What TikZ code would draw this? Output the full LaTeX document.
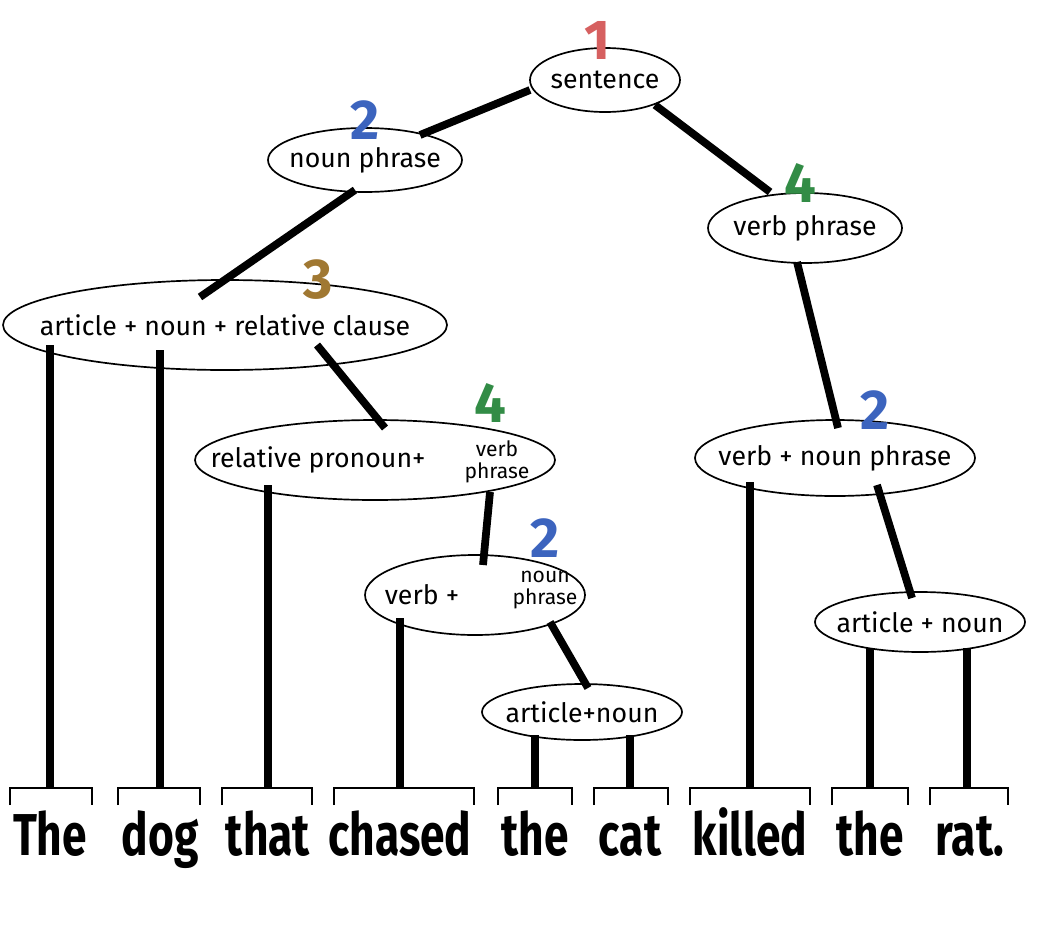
\documentclass[tikz,border=0pt]{standalone}
\usepackage{fontspec}
\setmainfont{Fira Sans}
\definecolor{cred}{RGB}{214,96,96}
\definecolor{cblue}{RGB}{60,100,190}
\definecolor{cgreen}{RGB}{50,140,70}
\definecolor{cbrown}{RGB}{160,120,50}
\begin{document}
\begin{tikzpicture}[x=0.025cm,y=-0.025cm,
  bub/.style={draw,line width=1.2pt},
  lab/.style={font=\fontsize{19}{21}\selectfont,align=center,inner sep=1pt},
  small/.style={font=\fontsize{15}{16}\selectfont,align=center,inner sep=0pt},
  num/.style={font=\fontsize{40}{40}\bfseries\selectfont,inner sep=0pt},
  word/.style={font=\fontsize{42}{42}\bfseries\selectfont},
  stem/.style={line width=5.5pt},
  brk/.style={line width=1.2pt}]
\useasboundingbox (0,0) rectangle (1043,927);
% bubbles
\draw[bub] (605,80) ellipse (75 and 32);
\draw[bub] (365,160) ellipse (97 and 32);
\draw[bub] (805,228) ellipse (97 and 35);
\draw[bub] (225,325) ellipse (222 and 45);
\draw[bub] (375,460) ellipse (180 and 40);
\draw[bub] (835,458) ellipse (140 and 38);
\draw[bub] (475,595) ellipse (110 and 40);
\draw[bub] (582,712) ellipse (100 and 28);
\draw[bub] (920,622) ellipse (105 and 30);
% labels
\node[lab] (s) at (605,80) {sentence};
\node[lab] (np) at (365,160) {noun phrase};
\node[lab] (vp) at (805,228) {verb phrase};
\node[lab] (anr) at (225,325) {article + noun + relative clause};
\node[lab] (rp) at (318,460) {relative pronoun+};
\node[small] (rpv) at (497,462) {verb\\phrase};
\node[lab] (vnp) at (835,458) {verb + noun phrase};
\node[lab] (v2) at (422,595) {verb +};
\node[small] (v2n) at (545,590) {noun\\phrase};
\node[lab] (an1) at (582,712) {article+noun};
\node[lab] (an2) at (920,622) {article + noun};
% numbers
\node[num,text=cred] (n1) at (598,40) {1};
\node[num,text=cblue] (n2) at (365,120) {2};
\node[num,text=cgreen] (n3) at (800,183) {4};
\node[num,text=cbrown] (n4) at (318,280) {3};
\node[num,text=cgreen] (n5) at (490,403) {4};
\node[num,text=cblue] (n6) at (875,410) {2};
\node[num,text=cblue] (n7) at (545,538) {2};
% words
\foreach \x/\w/\n in {50/The/w1,160/dog/w2,268/that/w3,400/chased/w4,535/the/w5,630/cat/w6,750/killed/w7,870/the/w8,970/rat./w9}{
  \node[word,anchor=base] (\n) at (\x,855) {\scalebox{0.75}[1]{\w}};
}
% brackets
\foreach \a/\b in {10/92,118/200,222/312,334/474,498/572,594/668,690/810,832/908,930/1008}{
  \draw[brk] (\a,805) -- (\a,788) -- (\b,788) -- (\b,805);
}
% stems
\coordinate (t1) at (50,788); \coordinate (t2) at (160,788); \coordinate (t3) at (268,788);
\coordinate (t4) at (400,788); \coordinate (t5) at (535,788); \coordinate (t6) at (630,788);
\coordinate (t7) at (750,788); \coordinate (t8) at (870,788); \coordinate (t9) at (967,788);
\draw[stem] (530,90) -- (420,135);
\draw[stem] (655,105) -- (770,192);
\draw[stem] (355,190) -- (200,297);
\draw[stem] (50,345) -- (t1);
\draw[stem] (160,350) -- (t2);
\draw[stem] (317,345) -- (385,428);
\draw[stem] (268,485) -- (t3);
\draw[stem] (490,492) -- (483,565);
\draw[stem] (400,618) -- (t4);
\draw[stem] (550,622) -- (588,688);
\draw[stem] (535,735) -- (t5);
\draw[stem] (630,735) -- (t6);
\draw[stem] (797,262) -- (838,428);
\draw[stem] (750,482) -- (t7);
\draw[stem] (877,485) -- (912,598);
\draw[stem] (870,648) -- (t8);
\draw[stem] (967,648) -- (t9);
\end{tikzpicture}
\end{document}
